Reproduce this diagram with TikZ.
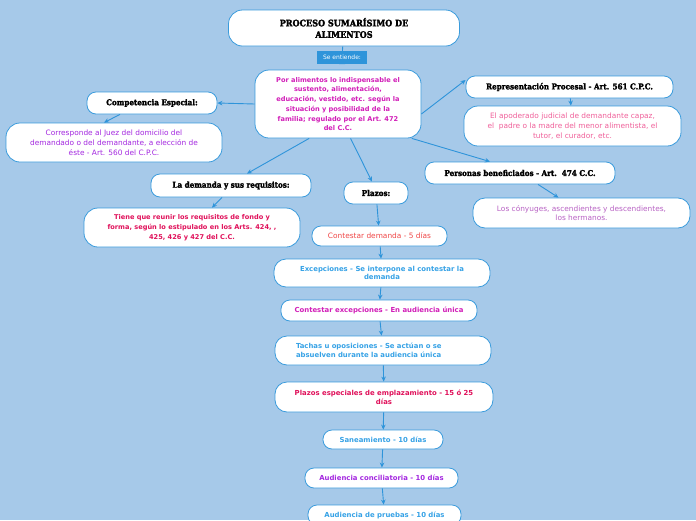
\documentclass[tikz,border=0pt]{standalone}
\usepackage{fontspec}
\setmainfont{DejaVu Sans}
\newfontfamily\headfont[BoldFeatures={FakeBold=2.2}]{DejaVu Serif Condensed}
\usetikzlibrary{arrows.meta}

\definecolor{fondo}{HTML}{A6C9E9}
\definecolor{borde}{HTML}{3A9BDC}
\definecolor{flecha}{HTML}{2E94DA}
\definecolor{magenta1}{HTML}{D21EB8}
\definecolor{violeta}{HTML}{A428E0}
\definecolor{rosa}{HTML}{F0609A}
\definecolor{orquidea}{HTML}{B862C4}
\definecolor{carmin}{HTML}{E0105A}
\definecolor{rojo}{HTML}{F04848}
\definecolor{azul}{HTML}{36A2E6}

\tikzset{
  caja/.style={draw=borde, fill=white, line width=0.8pt, rounded corners=9pt,
    align=center, inner sep=1pt, font=\fontsize{7.4}{9.8}\selectfont},
  negrita/.style={font=\bfseries\fontsize{6.9}{8.8}\selectfont},
  titulo/.style={caja, font=\headfont\bfseries\fontsize{8}{9.4}\selectfont},
  link/.style={->, draw=flecha, line width=0.9pt}
}

\begin{document}
\begin{tikzpicture}[x=1pt, y=-1pt, >={Stealth[length=5pt,width=4.5pt]}]

  \fill[fondo] (0,0) rectangle (696,520);
  \useasboundingbox (0,0) rectangle (696,520);

  % cabecera
  \node[titulo, font=\headfont\bfseries\fontsize{9}{11.5}\selectfont, minimum width=231pt,
    minimum height=36pt, rounded corners=14pt] (proceso) at (344,28)
    {PROCESO SUMARÍSIMO DE\\ALIMENTOS};
  \node[fill=flecha, text=white, inner sep=1.5pt, minimum width=50pt, minimum height=13pt,
    font=\fontsize{6}{7}\selectfont] (entiende) at (342,57.5) {Se entiende:};
  \fill[flecha] ([xshift=-3pt]entiende.south) -- ([xshift=3pt]entiende.south) -- ++(-3pt,5pt) -- cycle;

  \node[caja, text=magenta1, font=\bfseries\fontsize{6.6}{9.7}\selectfont, minimum width=166pt,
    minimum height=68pt, rounded corners=14pt] (alimentos) at (338,104)
    {Por alimentos lo indispensable el\\sustento, alimentación,\\educación, vestido, etc. según la\\situación y posibilidad de la\\familia; regulado por el Art. 472\\del C.C.};

  % rama izquierda
  \node[titulo, minimum width=130pt, minimum height=22pt] (competencia) at (152,103) {Competencia Especial:};
  \node[caja, text=violeta, minimum width=216pt, minimum height=39pt, rounded corners=14pt] (juez) at (114,142.5)
    {Corresponde al Juez del domicilio del\\demandado o del demandante, a elección de\\éste - Art. 560 del C.P.C.};

  \node[titulo, minimum width=160pt, minimum height=23pt] (demanda) at (231,185.5) {La demanda y sus requisitos:};
  \node[caja, text=carmin, font=\bfseries\fontsize{6.6}{9.7}\selectfont, minimum width=216pt,
    minimum height=39pt, rounded corners=14pt] (requisitos) at (192,227.5)
    {Tiene que reunir los requisitos de fondo y\\forma, según lo estipulado en los Arts. 424, ,\\425, 426 y 427 del C.C.};

  % rama derecha
  \node[titulo, minimum width=207pt, minimum height=22pt] (representacion) at (569.5,87)
    {Representación Procesal - Art. 561 C.P.C.};
  \node[caja, text=rosa, minimum width=217pt, minimum height=40pt, rounded corners=14pt] (apoderado) at (572.5,126)
    {El apoderado judicial de demandante capaz,\\el\ \ padre o la madre del menor alimentista, el\\tutor, el curador, etc.};

  \node[titulo, minimum width=190pt, minimum height=22pt] (personas) at (520,173)
    {Personas beneficiados - Art.\ \ 474 C.C.};
  \node[caja, text=orquidea, minimum width=217pt, minimum height=30pt, rounded corners=12pt] (conyuges) at (581.5,213)
    {Los cónyuges, ascendientes y descendientes,\\los hermanos.};

  % plazos
  \node[titulo, minimum width=64pt, minimum height=22pt] (plazos) at (376,193) {Plazos:};
  \node[caja, text=rojo, minimum width=135pt, minimum height=20pt] (contestar) at (379.5,236)
    {Contestar demanda - 5 días};
  \node[caja, negrita, text=azul, minimum width=216pt, minimum height=28pt,
    rounded corners=12pt] (excepciones) at (382,273)
    {Excepciones - Se interpone al contestar la\\demanda};
  \node[caja, negrita, text=magenta1, minimum width=196pt, minimum height=21pt] (contexc) at (379,310.5)
    {Contestar excepciones - En audiencia única};
  \node[caja, negrita, text=azul, align=left, text width=174pt, minimum width=216pt,
    minimum height=29pt, rounded corners=12pt] (tachas) at (383,350.5)
    {Tachas u oposiciones - Se actúan o se\\absuelven durante la audiencia única};
  \node[caja, negrita, text=carmin, minimum width=218pt, minimum height=30pt,
    rounded corners=12pt] (especiales) at (384,397)
    {Plazos especiales de emplazamiento - 15 ó 25\\días};
  \node[caja, negrita, text=azul, minimum width=120pt, minimum height=19pt] (saneamiento) at (383,439.5)
    {Saneamiento - 10 días};
  \node[caja, negrita, text=violeta, minimum width=153pt, minimum height=20pt] (conciliatoria) at (381.5,478)
    {Audiencia conciliatoria - 10 días};
  \node[caja, negrita, text=azul, minimum width=153pt, minimum height=20pt] (pruebas) at (384.5,515)
    {Audiencia de pruebas - 10 días};

  % conectores
  \draw[flecha, line width=0.9pt] (proceso) -- (entiende);
  \draw[link] (alimentos.west) -- (competencia.east);
  \draw[link] ([xshift=-32pt]competencia.south) -- ([xshift=-10pt]juez.north);
  \draw[link] ([yshift=-10pt]alimentos.east) -- ([yshift=7pt]representacion.west);
  \draw[link] (representacion) -- (apoderado);
  \draw[link] (alimentos.-25) -- ([xshift=-30pt]personas.north);
  \draw[link] ([xshift=18pt]personas.south) -- ([xshift=-23pt]conyuges.north);
  \draw[link] (alimentos.-130) -- ([xshift=16pt]demanda.north);
  \draw[link] ([xshift=-9pt]demanda.south) -- ([xshift=20pt]requisitos.north);
  \draw[link] (alimentos.-70) -- ([xshift=-4pt]plazos.north);
  \draw[link] (plazos) -- (contestar);
  \draw[link] (contestar) -- (excepciones);
  \draw[link] (excepciones) -- (contexc);
  \draw[link] (contexc) -- (tachas);
  \draw[link] (tachas) -- (especiales);
  \draw[link] (especiales) -- (saneamiento);
  \draw[link] (saneamiento) -- (conciliatoria);
  \draw[link] (conciliatoria) -- (pruebas);

\end{tikzpicture}
\end{document}
